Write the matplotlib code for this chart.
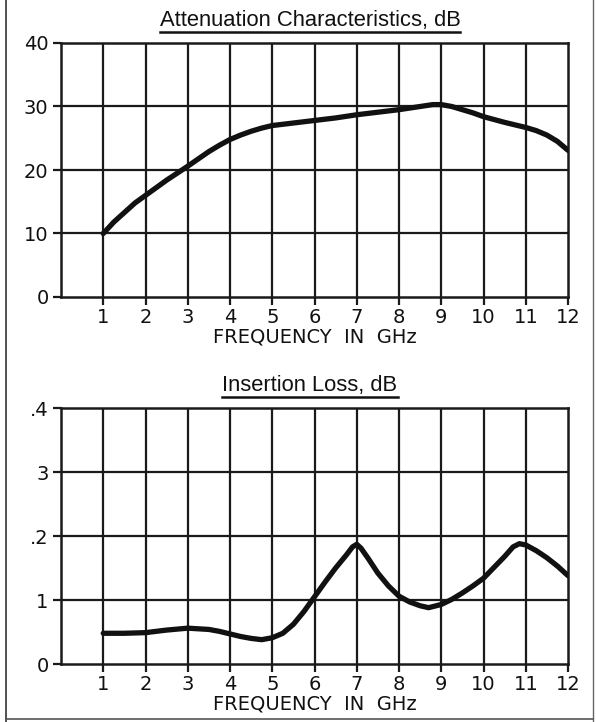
import matplotlib
matplotlib.use('Agg')
import matplotlib.pyplot as plt
from matplotlib.lines import Line2D

# attenuation curve (dB)
att_freq = [1, 1.25, 1.5, 1.75, 2, 2.5, 3, 3.5, 3.75, 4, 4.25, 4.5, 4.75, 5, 5.5, 6, 6.5, 7,
            7.5, 8, 8.5, 8.8, 9, 9.25, 9.5, 9.75, 10, 10.5, 11, 11.25, 11.5, 11.75, 12]
att_db = [10, 11.8, 13.3, 14.8, 16.0, 18.4, 20.6, 22.9, 23.9, 24.8, 25.5, 26.1, 26.6, 27.0,
          27.4, 27.8, 28.2, 28.7, 29.1, 29.5, 30.0, 30.3, 30.3, 30.0, 29.5, 29.0, 28.4, 27.5,
          26.7, 26.2, 25.5, 24.5, 23.1]

# insertion loss curve (dB)
il_freq = [1, 1.5, 2, 2.5, 3, 3.5, 3.75, 4, 4.25, 4.5, 4.75, 5, 5.25, 5.5, 5.75, 6, 6.25, 6.5,
           6.75, 6.9, 7, 7.1, 7.27, 7.5, 7.75, 8, 8.25, 8.5, 8.7, 9, 9.25, 9.5, 9.75, 10,
           10.25, 10.5, 10.7, 10.85, 11, 11.25, 11.5, 11.75, 12]
il_db = [0.048, 0.048, 0.049, 0.053, 0.056, 0.054, 0.051, 0.047, 0.043, 0.040, 0.038, 0.041,
         0.048, 0.062, 0.082, 0.105, 0.128, 0.150, 0.170, 0.183, 0.187, 0.181, 0.165, 0.142,
         0.122, 0.106, 0.097, 0.091, 0.088, 0.093, 0.101, 0.111, 0.122, 0.134, 0.151, 0.168,
         0.183, 0.188, 0.186, 0.177, 0.166, 0.153, 0.138]

x_ticks = list(range(1, 13))
att_yticks = [0, 10, 20, 30, 40]
att_ylabels = ['0', '10', '20', '30', '40']
il_yticks = [0, 0.1, 0.2, 0.3, 0.4]
il_ylabels = ['0', '1', '.2', '3', '.4']

W, H = 596, 722
fig = plt.figure(figsize=(W / 100, H / 100), dpi=100)
fig.patch.set_facecolor('white')


def px_axes(left, top, right, bottom):
    return fig.add_axes([left / W, 1 - bottom / H, (right - left) / W, (bottom - top) / H])


def style_axes(ax, yticks, ylabels, ymax):
    ax.set_xlim(0, 12)
    ax.set_ylim(0, ymax)
    ax.set_xticks(x_ticks)
    ax.set_xticklabels([str(t) for t in x_ticks])
    ax.set_yticks(yticks)
    ax.set_yticklabels(ylabels)
    for v in x_ticks[:-1]:
        ax.axvline(v, color='#1a1a1a', lw=1.6, zorder=1)
    for v in yticks[1:-1]:
        ax.axhline(v, color='#1a1a1a', lw=1.6, zorder=1)
    for s in ax.spines.values():
        s.set_linewidth(1.8)
        s.set_color('#1a1a1a')
    ax.tick_params(axis='both', direction='out', length=6, width=1.6, color='#1a1a1a',
                   labelsize=14, labelcolor='#111111')
    ax.tick_params(axis='x', pad=2)
    ax.tick_params(axis='y', pad=3)
    ax.set_xlabel('FREQUENCY  IN  GHz', fontsize=14, color='#111111', labelpad=0)


ax1 = px_axes(61, 43, 568, 297)
ax1.plot(att_freq, att_db, color='#111111', lw=3.8, solid_capstyle='round',
         solid_joinstyle='round', zorder=3)
style_axes(ax1, att_yticks, att_ylabels, 40)

ax2 = px_axes(61, 408, 568, 664)
ax2.plot(il_freq, il_db, color='#111111', lw=3.8, solid_capstyle='round',
         solid_joinstyle='round', zorder=3)
style_axes(ax2, il_yticks, il_ylabels, 0.4)

# underlined titles
titles = [('Attenuation Characteristics, dB', 26), ('Insertion Loss, dB', 391)]
text_objs = []
for txt, base in titles:
    t = fig.text(310 / W, 1 - base / H, txt, ha='center', va='baseline', fontsize=15.8,
                 family='Liberation Sans', color='#111111')
    text_objs.append((t, base))

fig.canvas.draw()
r = fig.canvas.get_renderer()
for t, base in text_objs:
    bb = t.get_window_extent(renderer=r)
    y = 1 - (base + 6) / H
    fig.add_artist(Line2D([bb.x0 / W, bb.x1 / W], [y, y], color='#111111', lw=1.8))

# page frame
fig.add_artist(Line2D([6 / W, 6 / W], [0, 1], color='#333333', lw=1.2))
fig.add_artist(Line2D([593 / W, 593 / W], [0, 1], color='#666666', lw=1.0))
fig.add_artist(Line2D([6 / W, 593 / W], [3 / H, 3 / H], color='#555555', lw=1.2))

fig.savefig('out.png', dpi=100, facecolor='white')
